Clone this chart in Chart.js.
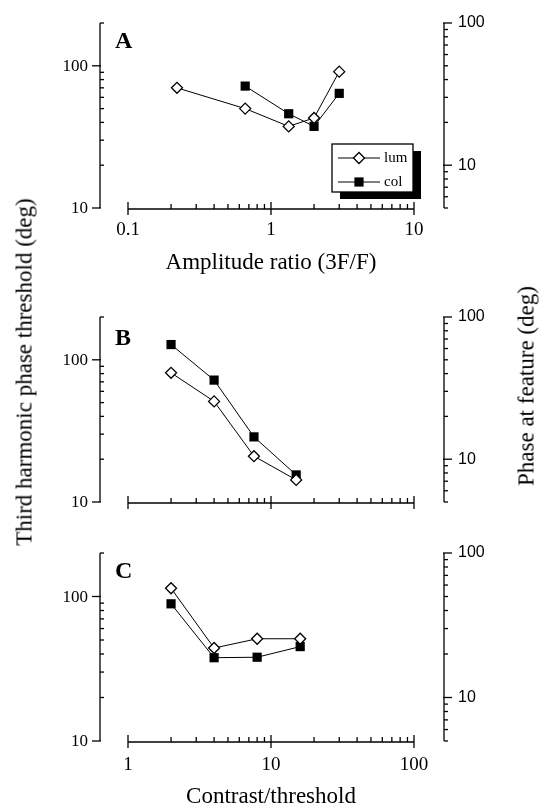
<!DOCTYPE html>
<html><head><meta charset="utf-8">
<script src="https://cdn.jsdelivr.net/npm/chart.js@4.4.0/dist/chart.umd.min.js"></script>
<style>
html,body{margin:0;padding:0;background:#fff;}
#wrap{position:relative;width:539px;height:809px;overflow:hidden;background:#fff;}
canvas{position:absolute;left:0;top:0;}
.ytitle{position:absolute;font-family:"Liberation Serif","Times New Roman",serif;font-size:23px;line-height:1;color:#000;white-space:nowrap;transform:translate(-50%,-50%) rotate(-90deg);}
</style></head><body>
<div id="wrap">
<canvas id="cA" width="539" height="809"></canvas>
<canvas id="cB" width="539" height="809"></canvas>
<canvas id="cC" width="539" height="809"></canvas>
<div class="ytitle" style="left:24px;top:372px">Third harmonic phase threshold (deg)</div>
<div class="ytitle" style="left:526px;top:386px">Phase at feature (deg)</div>
</div>
<script>
// ---- data ----
const seriesNames = ['lum', 'col'];
// Panel A: amplitude ratio (3F/F)
const ampRatioLum = [0.22, 0.66, 1.33, 2, 3];
const thresholdALum = [70, 50, 37.5, 43, 91];
const ampRatioCol = [0.66, 1.33, 2, 3];
const thresholdACol = [72, 46, 37.5, 64];
// Panel B: contrast/threshold
const contrastB = [2, 4, 7.6, 15];
const thresholdBLum = [81, 51, 21, 14.3];
const thresholdBCol = [128, 72, 28.7, 15.5];
// Panel C: contrast/threshold
const contrastC = [2, 4, 8, 16];
const thresholdCLum = [114, 44, 51, 51];
const thresholdCCol = [89, 37.7, 38, 45];
// tick labels
const leftTickLabels = [10, 100];
const rightTickLabels = [10, 100];
const xTickLabelsA = [0.1, 1, 10];
const xTickLabelsC = [1, 10, 100];

const SERIF = '"Liberation Serif","Times New Roman",serif';
const SANS = '"Liberation Sans",Arial,sans-serif';

function logTicks(min, max) {
  const out = [];
  for (let e = Math.floor(Math.log10(min)); e <= Math.ceil(Math.log10(max)); e++) {
    for (let m = 1; m < 10; m++) {
      const v = m * Math.pow(10, e);
      if (v >= min * 0.999 && v <= max * 1.001) out.push({v, major: m === 1});
    }
  }
  return out;
}

function marker(ctx, style, cx, cy, r) {
  ctx.beginPath();
  if (style === 'rectRot') {
    ctx.moveTo(cx - r, cy); ctx.lineTo(cx, cy - r); ctx.lineTo(cx + r, cy); ctx.lineTo(cx, cy + r); ctx.closePath();
    ctx.fillStyle = '#fff'; ctx.fill(); ctx.lineWidth = 1.3; ctx.strokeStyle = '#000'; ctx.stroke();
  } else {
    const s = r * Math.SQRT1_2;
    ctx.rect(cx - s, cy - s, 2 * s, 2 * s);
    ctx.fillStyle = '#000'; ctx.fill();
  }
}

const frameAxes = {
  id: 'frameAxes',
  beforeDatasetsDraw(chart, args, o) {
    const {ctx, chartArea: ca} = chart;
    const x = chart.scales.x, y = chart.scales.y, y2 = chart.scales.y2;
    const axL = ca.left - 28, axR = ca.right + 30, axB = ca.bottom + 1;
    ctx.save();
    ctx.strokeStyle = '#000'; ctx.fillStyle = '#000'; ctx.lineWidth = 1.3;
    const line = (a, b, c, d) => { ctx.beginPath(); ctx.moveTo(a, b); ctx.lineTo(c, d); ctx.stroke(); };
    // left axis
    line(axL, y.getPixelForValue(y.max), axL, y.getPixelForValue(y.min));
    for (const t of logTicks(y.min, y.max)) {
      const py = y.getPixelForValue(t.v);
      if (t.major) line(axL - 8, py, axL + 1, py); else line(axL, py, axL + 4, py);
    }
    ctx.font = '17px ' + SERIF; ctx.textAlign = 'right'; ctx.textBaseline = 'middle';
    for (const v of leftTickLabels) ctx.fillText(String(v), axL - 12, y.getPixelForValue(v) + 1);
    // bottom axis
    line(x.getPixelForValue(x.min), axB, x.getPixelForValue(x.max), axB);
    for (const t of logTicks(x.min, x.max)) {
      const px = x.getPixelForValue(t.v);
      if (t.major) line(px, axB - 7, px, axB + 6); else line(px, axB - 5, px, axB);
    }
    if (o.xLabels) {
      ctx.font = '19px ' + SERIF; ctx.textAlign = 'center'; ctx.textBaseline = 'middle';
      for (const v of o.xLabels) ctx.fillText(String(v), x.getPixelForValue(v), axB + o.xLabelDy);
    }
    if (o.xTitle) {
      ctx.font = '23px ' + SERIF; ctx.textAlign = 'center'; ctx.textBaseline = 'alphabetic';
      ctx.fillText(o.xTitle, (ca.left + ca.right) / 2, axB + o.xTitleDy);
    }
    // right axis
    line(axR, y2.getPixelForValue(y2.max), axR, y2.getPixelForValue(y2.min));
    for (const t of logTicks(y2.min, y2.max)) {
      const py = y2.getPixelForValue(t.v);
      if (t.major) line(axR - 1, py, axR + 8, py); else line(axR, py, axR + 4, py);
    }
    ctx.font = '16px ' + SANS; ctx.textAlign = 'left'; ctx.textBaseline = 'middle';
    for (const v of rightTickLabels) ctx.fillText(String(v), axR + 14, y2.getPixelForValue(v));
    // panel letter
    ctx.font = 'bold 24px ' + SERIF; ctx.textAlign = 'left'; ctx.textBaseline = 'alphabetic';
    ctx.fillText(o.letter, ca.left - 13, ca.top + o.letterDy);
    ctx.restore();
  },
  afterDraw(chart, args, o) {
    if (!o.legend) return;
    const {ctx} = chart;
    const L = o.legend;
    ctx.save();
    ctx.fillStyle = '#000';
    ctx.fillRect(L.x + 8, L.y + 7, L.w, L.h);
    ctx.fillStyle = '#fff';
    ctx.fillRect(L.x, L.y, L.w, L.h);
    ctx.strokeStyle = '#000'; ctx.lineWidth = 1.3;
    ctx.strokeRect(L.x, L.y, L.w, L.h);
    chart.data.datasets.forEach((ds, i) => {
      const ry = L.y + 14 + i * 24;
      ctx.strokeStyle = '#000'; ctx.lineWidth = 1;
      ctx.beginPath(); ctx.moveTo(L.x + 6, ry); ctx.lineTo(L.x + 48, ry); ctx.stroke();
      marker(ctx, ds.pointStyle, L.x + 27, ry, ds.pointRadius);
      ctx.fillStyle = '#000';
      ctx.font = '15px ' + SERIF; ctx.textAlign = 'left'; ctx.textBaseline = 'middle';
      ctx.fillText(ds.label, L.x + 52, ry);
    });
    ctx.restore();
  }
};

function ds(label, xs, ys) {
  const lum = label === 'lum';
  return {
    label,
    data: xs.map((v, i) => ({x: v, y: ys[i]})),
    borderColor: '#000', borderWidth: 1,
    pointStyle: lum ? 'rectRot' : 'rect',
    pointRadius: lum ? 5.5 : 6.5,
    pointBackgroundColor: lum ? '#fff' : '#000',
    pointBorderColor: '#000',
    pointBorderWidth: lum ? 1.3 : 0,
    tension: 0, clip: false, fill: false
  };
}

function panel(id, top, bottom, xMin, xMax, datasets, opts) {
  return new Chart(document.getElementById(id), {
    type: 'line',
    data: {datasets},
    options: {
      responsive: false, animation: false, devicePixelRatio: 1,
      layout: {padding: {left: 128, right: 125, top: top, bottom: 809 - bottom}},
      plugins: {legend: {display: false}, tooltip: {enabled: false}, frameAxes: opts},
      scales: {
        x: {type: 'logarithmic', min: xMin, max: xMax, display: false},
        y: {type: 'logarithmic', min: 10, max: 200, display: false},
        y2: {type: 'logarithmic', min: 5, max: 100, display: false, position: 'right'}
      }
    },
    plugins: [frameAxes]
  });
}

panel('cA', 23, 208, 0.1, 10,
  [ds(seriesNames[0], ampRatioLum, thresholdALum), ds(seriesNames[1], ampRatioCol, thresholdACol)],
  {letter: 'A', letterDy: 25, xLabels: xTickLabelsA, xLabelDy: 21, xTitle: 'Amplitude ratio (3F/F)', xTitleDy: 60,
   legend: {x: 332, y: 144, w: 81, h: 48}});
panel('cB', 317, 502, 1, 100,
  [ds(seriesNames[0], contrastB, thresholdBLum), ds(seriesNames[1], contrastB, thresholdBCol)],
  {letter: 'B', letterDy: 28});
panel('cC', 553, 741, 1, 100,
  [ds(seriesNames[0], contrastC, thresholdCLum), ds(seriesNames[1], contrastC, thresholdCCol)],
  {letter: 'C', letterDy: 25, xLabels: xTickLabelsC, xLabelDy: 23, xTitle: 'Contrast/threshold', xTitleDy: 61});
</script>
</body></html>
